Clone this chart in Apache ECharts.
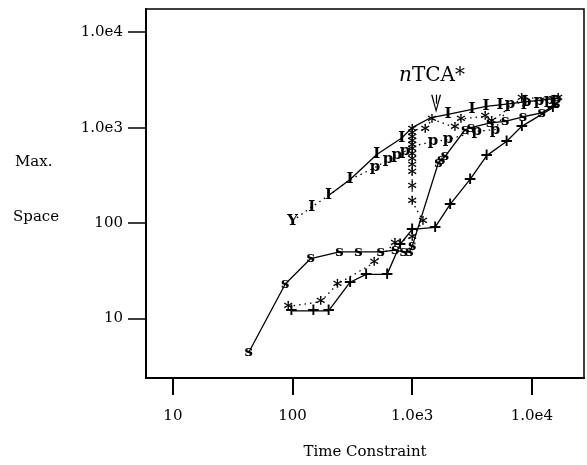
<!DOCTYPE html>
<html><head><meta charset="utf-8">
<script src="https://cdn.jsdelivr.net/npm/echarts@6/dist/echarts.min.js"></script>
<style>html,body{margin:0;padding:0;background:#fff}#c{width:587px;height:465px}</style>
</head><body><div id="c"></div>
<script>
const xTicks = [10, 100, 1000, 10000];
const yTicks = [10, 100, 1000, 10000];

// series "s" (solid)
const sTime  = [43, 87, 142, 247, 355, 546, 720, 850, 950, 1000, 1656, 1750, 1884, 2770, 3100, 4490, 5980, 8450, 12100, 16000];
const sSpace = [4.4, 23, 42.5, 50, 50, 50, 52, 50, 50, 57, 428, 460, 500, 950, 1000, 1120, 1164, 1300, 1426, 1750];

// series "+" (solid)
const plusTime  = [98, 149, 200, 303, 412, 617, 794, 1000, 1552, 2075, 3048, 4200, 6170, 8240, 15000];
const plusSpace = [12, 12, 12, 24, 29, 29, 60, 86, 90, 157, 287, 509, 719, 1032, 1622];

// series "*" (dotted)
const starTime  = [92, 172, 237, 481, 719, 1000, 1230, 1000, 1000, 1000, 1000, 1000, 1000, 1000, 1000, 1000, 1000, 1000, 1000, 1282, 1463, 2280, 2560, 4070, 4620, 8240, 16600];
const starSpace = [13.4, 15, 22.9, 38.5, 62, 71, 105, 169, 242, 340, 402, 464, 523, 590, 649, 714, 785, 865, 953, 953, 1233, 1000, 1233, 1313, 1165, 2040, 2040];

// series "I" (solid)
const iTime  = [200, 303, 506, 818, 1000, 1413, 1995, 3160, 4140, 5420, 8760, 16600];
const iSpace = [194, 286, 522, 780, 1000, 1262, 1380, 1552, 1668, 1734, 1863, 2042];
const iMarks = ['I', 'I', 'I', 'I', '', '', 'I', 'I', 'I', 'I', 'I', ''];

// series "p" (dotted)
const pTime  = [100, 145, 200, 303, 490, 628, 743, 871, 1000, 1496, 1995, 3470, 4930, 6580, 9000, 11500, 14000, 16000];
const pSpace = [105, 148, 194, 286, 382, 463, 521, 565, 638, 714, 750, 914, 953, 1780, 1850, 1900, 1950, 2000];
const pMarks = ['Y', 'I', '', '', 'p', 'p', 'p', 'p', '', 'p', 'p', 'p', 'p', 'p', 'p', 'p', 'p', 'p'];

// annotation
const noteText = 'nTCA*';
const noteAt = [1466, 3490];
const arrowFrom = [1585, 2213];
const arrowTo = [1585, 1782];

const FONT = 'DejaVu Serif';

function pairs(xs, ys) { return xs.map((x, i) => [x, ys[i]]); }

function mk(name, xs, ys, marks, dotted, fontSize, dy, extra) {
  const s = {
    name: name, type: 'line', data: pairs(xs, ys),
    symbol: 'circle', symbolSize: 1, showAllSymbol: true,
    itemStyle: { color: 'rgba(0,0,0,0)' },
    lineStyle: { color: '#000', width: 1.3, type: dotted ? [1.5, 4] : 'solid' },
    label: {
      show: true, position: 'inside', color: '#000',
      fontFamily: FONT, fontSize: fontSize, fontWeight: 'bold',
      offset: [0, dy],
      formatter: p => Array.isArray(marks) ? marks[p.dataIndex] : marks
    },
    emphasis: { disabled: true }, silent: true, z: 3
  };
  return Object.assign(s, extra || {});
}

function fmt(v) {
  return v >= 1000 ? '1.0e' + Math.round(Math.log10(v)) : String(Math.round(v));
}

const chart = echarts.init(document.getElementById('c'));
chart.setOption({
  animation: false,
  backgroundColor: '#fff',
  grid: { left: 146, right: 3, top: 9, bottom: 86, show: true, borderColor: '#000', borderWidth: 1.5 },
  xAxis: {
    type: 'log', logBase: 10, min: 5.96, max: 27300,
    axisLine: { show: true, lineStyle: { color: '#000', width: 2 } },
    axisTick: { show: true, inside: false, length: 17, lineStyle: { color: '#000', width: 2 }, customValues: xTicks },
    axisLabel: { customValues: xTicks, formatter: fmt, fontFamily: FONT, fontSize: 15, color: '#000', margin: 31 },
    splitLine: { show: false },
    name: 'Time Constraint', nameLocation: 'middle', nameGap: 67,
    nameTextStyle: { fontFamily: FONT, fontSize: 15, color: '#000' }
  },
  yAxis: {
    type: 'log', logBase: 10, min: 2.38, max: 17500,
    axisLine: { show: true, lineStyle: { color: '#000', width: 2 } },
    axisTick: { show: true, inside: false, length: 18, lineStyle: { color: '#000', width: 1.5 }, customValues: yTicks },
    axisLabel: { customValues: yTicks, formatter: fmt, fontFamily: FONT, fontSize: 15, color: '#000', margin: 23 },
    splitLine: { show: false }
  },
  graphic: [
    { type: 'text', left: 15, top: 155, style: { text: 'Max.', font: '15px "DejaVu Serif"', fill: '#000' } },
    { type: 'text', left: 13, top: 210, style: { text: 'Space', font: '15px "DejaVu Serif"', fill: '#000' } }
  ],
  series: [
    mk('s', sTime, sSpace, 's', false, 15, 0),
    mk('+', plusTime, plusSpace, '+', false, 17, 0),
    mk('*', starTime, starSpace, '*', true, 18, 4),
    mk('p', pTime, pSpace, pMarks, true, 15, 0),
    mk('I', iTime, iSpace, iMarks, false, 15, 0, {
      markPoint: {
        symbol: 'circle', symbolSize: 0, silent: true,
        data: [{ coord: noteAt }],
        label: {
          show: true, position: 'inside', color: '#000',
          formatter: '{i|n}{r|TCA*}',
          rich: {
            i: { fontFamily: FONT, fontSize: 20, fontStyle: 'italic', color: '#000' },
            r: { fontFamily: FONT, fontSize: 20, color: '#000' }
          }
        }
      },
      markLine: {
        silent: true, symbol: ['none', 'path://M5,0 L10,18 L8.6,18 L5,4 L1.4,18 L0,18 Z'], symbolSize: [10, 18],
        lineStyle: { color: '#000', width: 1.2, type: 'solid' },
        label: { show: false },
        data: [[{ coord: arrowFrom }, { coord: arrowTo }]]
      }
    })
  ]
});
</script>
</body></html>
